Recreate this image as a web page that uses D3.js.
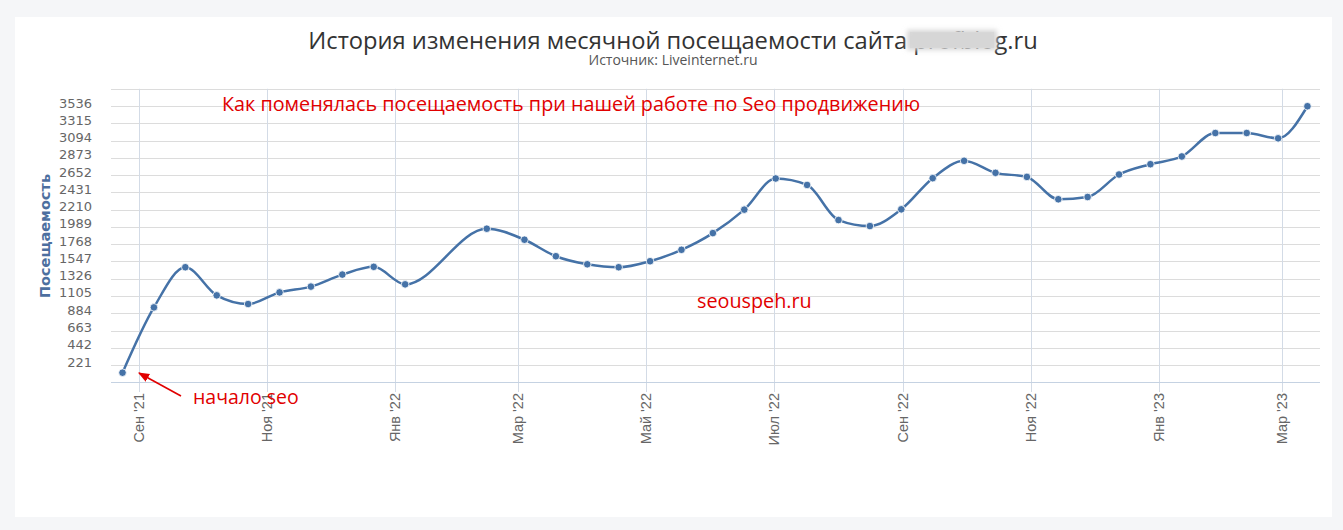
<!DOCTYPE html>
<html><head><meta charset="utf-8">
<script src="https://cdn.jsdelivr.net/npm/d3@7"></script>
<style>
html,body{margin:0;padding:0;background:#f5f6f8;}
svg{display:block;}
</style></head>
<body>
<script>
// ---- data ----
const dates = ["2021-08-24","2021-09-08","2021-09-23","2021-10-08","2021-10-23","2021-11-07","2021-11-22","2021-12-07","2021-12-22","2022-01-06",
"2022-02-14","2022-03-04","2022-03-19","2022-04-03","2022-04-18","2022-05-03","2022-05-18","2022-06-02","2022-06-17","2022-07-02",
"2022-07-17","2022-08-01","2022-08-16","2022-08-31","2022-09-15","2022-09-30","2022-10-15","2022-10-30","2022-11-14","2022-11-28",
"2022-12-13","2022-12-28","2023-01-12","2023-01-28","2023-02-12","2023-02-27","2023-03-13"];
const visits = [123,959,1473,1113,1002,1151,1225,1379,1478,1254,
1966,1825,1614,1511,1473,1550,1696,1910,2210,2609,
2526,2077,2000,2214,2613,2835,2681,2629,2343,2372,
2660,2792,2891,3191,3191,3123,3534];
const yTickValues = [221,442,663,884,1105,1326,1547,1768,1989,2210,2431,2652,2873,3094,3315,3536];
const yGridValues = [0,221,442,663,884,1105,1326,1547,1768,1989,2210,2431,2652,2873,3094,3315,3536,3757];
const monthNames = ["Янв","Фев","Мар","Апр","Май","Июн","Июл","Авг","Сен","Окт","Ноя","Дек"];
const titleText = "История изменения месячной посещаемости сайта profblog.ru";
const subtitleText = "Источник: Liveinternet.ru";
const yAxisTitle = "Посещаемость";
const note1 = "Как поменялась посещаемость при нашей работе по Seo продвижению";
const note2 = "seouspeh.ru";
const note3 = "начало seo";

const W = 1343, H = 530;
const svg = d3.select("body").append("svg").attr("width", W).attr("height", H);

const defs = svg.append("defs");
defs.append("filter").attr("id","blur").attr("filterUnits","userSpaceOnUse")
  .attr("x",880).attr("y",15).attr("width",150).attr("height",50)
  .append("feGaussianBlur").attr("stdDeviation", 2.5);
defs.append("marker").attr("id","arrow").attr("viewBox","0 0 10 10").attr("refX",9).attr("refY",5)
  .attr("markerWidth",7).attr("markerHeight",7).attr("orient","auto-start-reverse")
  .append("path").attr("d","M0,1 L10,5 L0,9 z").attr("fill","#e10000");

// card
svg.append("rect").attr("x",15).attr("y",17).attr("width",1317).attr("height",500).attr("fill","#fff");

const parse = d3.timeParse("%Y-%m-%d");
const data = dates.map((d,i)=>({date: parse(d), v: visits[i]}));

const x = d3.scaleTime()
  .domain([new Date(2021,7,18,12), new Date(2023,2,19)])
  .range([111, 1320]);
const y = d3.scaleLinear().domain([0, 3757]).range([382.3, 88.8]);

// horizontal grid
svg.append("g").selectAll("line").data(yGridValues).join("line")
  .attr("x1",111).attr("x2",1320)
  .attr("y1",d=>Math.round(y(d))+0.5).attr("y2",d=>Math.round(y(d))+0.5)
  .attr("stroke","#dcdcdc").attr("stroke-width",1);

// vertical grid + ticks
const xTicks = x.ticks(d3.timeMonth.every(2));
svg.append("g").selectAll("line").data(xTicks).join("line")
  .attr("x1",d=>Math.round(x(d))+0.5).attr("x2",d=>Math.round(x(d))+0.5)
  .attr("y1",88.8).attr("y2",392)
  .attr("stroke","#d3dbe6").attr("stroke-width",1);

// x axis line
svg.append("line").attr("x1",111).attr("x2",1320).attr("y1",382.5).attr("y2",382.5)
  .attr("stroke","#c5d2e2").attr("stroke-width",1.2);

// x labels
const fmt = d => monthNames[d.getMonth()] + " '" + String(d.getFullYear()).slice(2);
svg.append("g").selectAll("text").data(xTicks).join("text")
  .attr("transform", d=>`translate(${x(d)+5},393) rotate(-90)`)
  .attr("text-anchor","end")
  .attr("font-family","Liberation Sans, Arial, sans-serif")
  .attr("font-size",14.5).attr("fill","#666")
  .text(fmt);

// y labels
svg.append("g").selectAll("text").data(yTickValues).join("text")
  .attr("x",92).attr("y",d=>y(d)+1.5)
  .attr("text-anchor","end")
  .attr("font-family","DejaVu Sans, Verdana, sans-serif")
  .attr("font-size",13).attr("fill","#666")
  .text(d=>d);

// y title
svg.append("text").attr("transform","translate(50,236) rotate(-90)")
  .attr("text-anchor","middle")
  .attr("font-family","DejaVu Sans, Verdana, sans-serif").attr("font-weight","bold")
  .attr("font-size",14.5).attr("fill","#4d6f9f")
  .text(yAxisTitle);

// line
const line = d3.line().x(d=>x(d.date)).y(d=>y(d.v)).curve(d3.curveMonotoneX);
svg.append("path").datum(data).attr("d",line)
  .attr("fill","none").attr("stroke","#4572a7").attr("stroke-width",2.5);

svg.append("g").selectAll("circle").data(data).join("circle")
  .attr("cx",d=>x(d.date)).attr("cy",d=>y(d.v)).attr("r",3.8)
  .attr("fill","#4572a7").attr("stroke","#fff").attr("stroke-width",0.8);

// title
svg.append("text").attr("x",673).attr("y",49).attr("text-anchor","middle")
  .attr("font-family","Open Sans, sans-serif").attr("font-size",23.7).attr("fill","#333")
  .text(titleText);
svg.append("rect").attr("x",910).attr("y",32).attr("width",84).attr("height",16)
  .attr("fill","#e2e2e2");
svg.append("rect").attr("x",907).attr("y",30).attr("width",90).attr("height",20)
  .attr("fill","#d6d6d6").attr("filter","url(#blur)");
svg.append("text").attr("x",673).attr("y",65).attr("text-anchor","middle")
  .attr("font-family","Open Sans, sans-serif").attr("font-size",14).attr("fill","#555")
  .text(subtitleText);

// annotations
svg.append("text").attr("x",222).attr("y",111)
  .attr("font-family","Open Sans, sans-serif").attr("font-size",19.8).attr("fill","#e10000")
  .text(note1);
svg.append("text").attr("x",697).attr("y",308)
  .attr("font-family","Open Sans, sans-serif").attr("font-size",19.8).attr("fill","#e10000")
  .text(note2);
svg.append("text").attr("x",193).attr("y",404)
  .attr("font-family","Open Sans, sans-serif").attr("font-size",19.5).attr("fill","#e10000")
  .text(note3);
svg.append("line").attr("x1",181).attr("y1",396).attr("x2",139).attr("y2",373)
  .attr("stroke","#e10000").attr("stroke-width",1.6).attr("marker-end","url(#arrow)");
</script>
</body></html>
